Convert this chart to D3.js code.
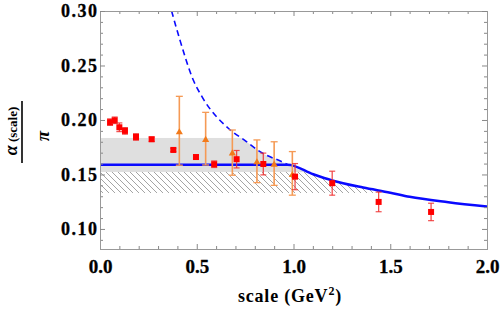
<!DOCTYPE html>
<html>
<head>
<meta charset="utf-8">
<script src="https://cdn.jsdelivr.net/npm/d3@7"></script>
<style>
  body { margin: 0; background: #fff; }
  svg { display: block; }
  .tick text { font-family: "Liberation Serif", "Times New Roman", serif; font-weight: bold; fill: #000; }
</style>
</head>
<body>
<div id="chart"></div>
<script>
// values
const redX   = [0.052, 0.076, 0.100, 0.129, 0.186, 0.267, 0.379, 0.496, 0.590, 0.706, 0.844, 1.008, 1.200, 1.440, 1.711];
const redY   = [0.1980, 0.1997, 0.1933, 0.1900, 0.1844, 0.1823, 0.1725, 0.1660, 0.1594, 0.1640, 0.1596, 0.1480, 0.1420, 0.1248, 0.1156];
const redErr = [0.003, 0.003, 0.004, 0.003, 0.003, 0.002, 0.0015, 0.0015, 0.003, 0.008, 0.010, 0.012, 0.011, 0.009, 0.008];

const orangeX  = [0.410, 0.546, 0.684, 0.811, 0.900, 0.994];
const orangeY  = [0.1887, 0.1817, 0.1694, 0.1612, 0.1590, 0.1495];
const orangeHi = [0.2217, 0.2070, 0.1908, 0.1817, 0.1800, 0.1710];
const orangeLo = [0.1585, 0.1587, 0.1493, 0.1425, 0.1400, 0.1310];

// perturbative curve (dashed below the matching point, solid above it)
const pertX = [0.370, 0.413, 0.482, 0.530, 0.663, 0.750, 0.827, 0.956, 0.970, 1.102, 1.200, 1.360, 1.500, 1.600, 1.800, 2.000];
const pertY = [0.300, 0.2734, 0.2367, 0.2205, 0.1924, 0.1810, 0.1709, 0.1603, 0.1590, 0.1502, 0.1445, 0.1380, 0.1333, 0.1295, 0.1245, 0.1205];
const matchX = 0.970;
const flatY = 0.159;

// bands
const bandTop = 0.1835, bandMid = 0.1523, bandLow = 0.133;

const xMajor = [0, 0.5, 1.0, 1.5, 2.0];
const yMajor = [0.10, 0.15, 0.20, 0.25, 0.30];

const W = 500, H = 311;
const margin = {top: 11, right: 13, bottom: 62, left: 100};
const width = W - margin.left - margin.right,
      height = H - margin.top - margin.bottom;

const svg = d3.select("#chart").append("svg")
  .attr("width", W).attr("height", H);

const x = d3.scaleLinear().domain([0, 2]).range([margin.left, margin.left + width]);
const y = d3.scaleLinear().domain([0.0816, 0.30]).range([margin.top + height, margin.top]);

const defs = svg.append("defs");
defs.append("clipPath").attr("id", "plot")
  .append("rect").attr("x", x(0)).attr("y", y(0.30)).attr("width", width).attr("height", height);

// region under the perturbative curve
const under = [[0, 0.30]].concat(pertX.map((v, i) => [v, pertY[i]]));
defs.append("clipPath").attr("id", "under")
  .append("path")
  .attr("d", d3.area()
    .x(d => x(d[0])).y0(y(0.0816)).y1(d => y(d[1]))
    .curve(d3.curveMonotoneX)(under));

const pat = defs.append("pattern").attr("id", "hatch")
  .attr("patternUnits", "userSpaceOnUse").attr("width", 6).attr("height", 6);
pat.append("path")
  .attr("d", "M0,0L6,6M-1,5L1,7M5,-1L7,1")
  .attr("stroke", "#9a9a9a").attr("stroke-width", 0.9);

const plot = svg.append("g").attr("clip-path", "url(#plot)");
const band = plot.append("g").attr("clip-path", "url(#under)");

band.append("rect")
  .attr("x", x(0)).attr("width", width)
  .attr("y", y(bandTop)).attr("height", y(bandMid) - y(bandTop))
  .attr("fill", "#dfdfdf");

band.append("rect")
  .attr("x", x(0)).attr("width", width)
  .attr("y", y(bandMid)).attr("height", y(bandLow) - y(bandMid))
  .attr("fill", "url(#hatch)");

// curves
const line = d3.line().x(d => x(d[0])).y(d => y(d[1])).curve(d3.curveMonotoneX);

const dashed = pertX.map((v, i) => [v, pertY[i]]).filter(d => d[0] <= matchX);
plot.append("path")
  .attr("d", line(dashed))
  .attr("fill", "none").attr("stroke", "#0a0aff")
  .attr("stroke-width", 1.6).attr("stroke-dasharray", "6,4");

const solid = [[0, flatY]].concat(pertX.map((v, i) => [v, pertY[i]]).filter(d => d[0] >= matchX));
plot.append("path")
  .attr("d", line(solid))
  .attr("fill", "none").attr("stroke", "#0a0aff")
  .attr("stroke-width", 2.5);

// orange data
const og = plot.append("g");
orangeX.forEach((v, i) => {
  const cx = x(v);
  og.append("line").attr("x1", cx).attr("x2", cx)
    .attr("y1", y(orangeHi[i])).attr("y2", y(orangeLo[i]))
    .attr("stroke", "#f59a55").attr("stroke-width", 1.6);
  [orangeHi[i], orangeLo[i]].forEach(e => {
    og.append("line").attr("x1", cx - 3.5).attr("x2", cx + 3.5)
      .attr("y1", y(e)).attr("y2", y(e))
      .attr("stroke", "#f59a55").attr("stroke-width", 1.3);
  });
  og.append("path")
    .attr("transform", `translate(${cx},${y(orangeY[i])})`)
    .attr("d", d3.symbol(d3.symbolTriangle, 22)())
    .attr("fill", "#f27a1a");
});

// red data
const rg = plot.append("g");
redX.forEach((v, i) => {
  const cx = x(v), hi = y(redY[i] + redErr[i]), lo = y(redY[i] - redErr[i]);
  rg.append("line").attr("x1", cx).attr("x2", cx).attr("y1", hi).attr("y2", lo)
    .attr("stroke", "#f03030").attr("stroke-width", 1.3).attr("opacity", 0.85);
  [hi, lo].forEach(e => {
    rg.append("line").attr("x1", cx - 3).attr("x2", cx + 3).attr("y1", e).attr("y2", e)
      .attr("stroke", "#f03030").attr("stroke-width", 1.2).attr("opacity", 0.85);
  });
  rg.append("rect")
    .attr("x", cx - 3).attr("y", y(redY[i]) - 3)
    .attr("width", 6).attr("height", 6)
    .attr("fill", "#ff0000");
});

// frame with inner ticks
const minorX = d3.range(0, 2.001, 0.1).filter(v => Math.abs(v * 2 - Math.round(v * 2)) > 1e-6);
const minorY = d3.range(0.09, 0.3001, 0.01).filter(v => Math.abs(v * 20 - Math.round(v * 20)) > 1e-6);

function styleAxis(g) {
  g.select(".domain").attr("stroke", "#999");
  g.selectAll(".tick line").attr("stroke", "#888");
}

svg.append("g").attr("transform", `translate(0,${y(0.0816)})`)
  .call(d3.axisBottom(x).tickValues(minorX).tickSize(-3).tickFormat(""))
  .call(styleAxis);
svg.append("g").attr("transform", `translate(0,${y(0.0816)})`)
  .call(d3.axisBottom(x).tickValues(xMajor).tickSizeInner(-5).tickSizeOuter(0)
    .tickPadding(11).tickFormat(d3.format(".1f")))
  .call(styleAxis)
  .call(g => g.selectAll(".tick text").attr("font-size", 19).attr("stroke", "#000").attr("stroke-width", 0.3));

svg.append("g").attr("transform", `translate(0,${y(0.30)})`)
  .call(d3.axisTop(x).tickValues(minorX).tickSize(-3).tickFormat(""))
  .call(styleAxis);
svg.append("g").attr("transform", `translate(0,${y(0.30)})`)
  .call(d3.axisTop(x).tickValues(xMajor).tickSizeInner(-5).tickSizeOuter(0).tickFormat(""))
  .call(styleAxis);

svg.append("g").attr("transform", `translate(${x(0)},0)`)
  .call(d3.axisLeft(y).tickValues(minorY).tickSize(-3).tickFormat(""))
  .call(styleAxis);
svg.append("g").attr("transform", `translate(${x(0)},0)`)
  .call(d3.axisLeft(y).tickValues(yMajor).tickSizeInner(-5).tickSizeOuter(0)
    .tickPadding(1.5).tickFormat(d3.format(".2f")))
  .call(styleAxis)
  .call(g => g.selectAll(".tick text").attr("font-size", 18).attr("letter-spacing", 1.5)
    .attr("stroke", "#000").attr("stroke-width", 0.3));

svg.append("g").attr("transform", `translate(${x(2)},0)`)
  .call(d3.axisRight(y).tickValues(minorY).tickSize(-3).tickFormat(""))
  .call(styleAxis);
svg.append("g").attr("transform", `translate(${x(2)},0)`)
  .call(d3.axisRight(y).tickValues(yMajor).tickSizeInner(-5).tickSizeOuter(0).tickFormat(""))
  .call(styleAxis);

// x title
const xt = svg.append("text")
  .attr("x", 290).attr("y", 302)
  .attr("text-anchor", "middle")
  .attr("font-family", "Liberation Serif, Times New Roman, serif")
  .attr("font-weight", "bold").attr("font-size", 18).attr("letter-spacing", 0.8);
xt.append("tspan").text("scale (GeV");
xt.append("tspan").attr("font-size", 12).attr("dy", -7).text("2");
xt.append("tspan").attr("dy", 7).text(")");

// y title as a rotated fraction
const yt = svg.append("text")
  .attr("transform", "translate(17,131) rotate(-90)")
  .attr("text-anchor", "middle")
  .attr("font-family", "Liberation Serif, Times New Roman, serif");
yt.append("tspan").attr("font-style", "italic").attr("font-weight", "bold").attr("font-size", 18).text("α");
yt.append("tspan").attr("font-weight", "bold").attr("font-size", 13).text(" (scale)");

svg.append("line")
  .attr("x1", 22).attr("x2", 22).attr("y1", 101).attr("y2", 163)
  .attr("stroke", "#000").attr("stroke-width", 1.6);

svg.append("text")
  .attr("transform", "translate(49,136) rotate(-90)")
  .attr("text-anchor", "middle")
  .attr("font-family", "Liberation Serif, Times New Roman, serif")
  .attr("font-style", "italic").attr("font-weight", "bold").attr("font-size", 19)
  .text("π");
</script>
</body>
</html>
